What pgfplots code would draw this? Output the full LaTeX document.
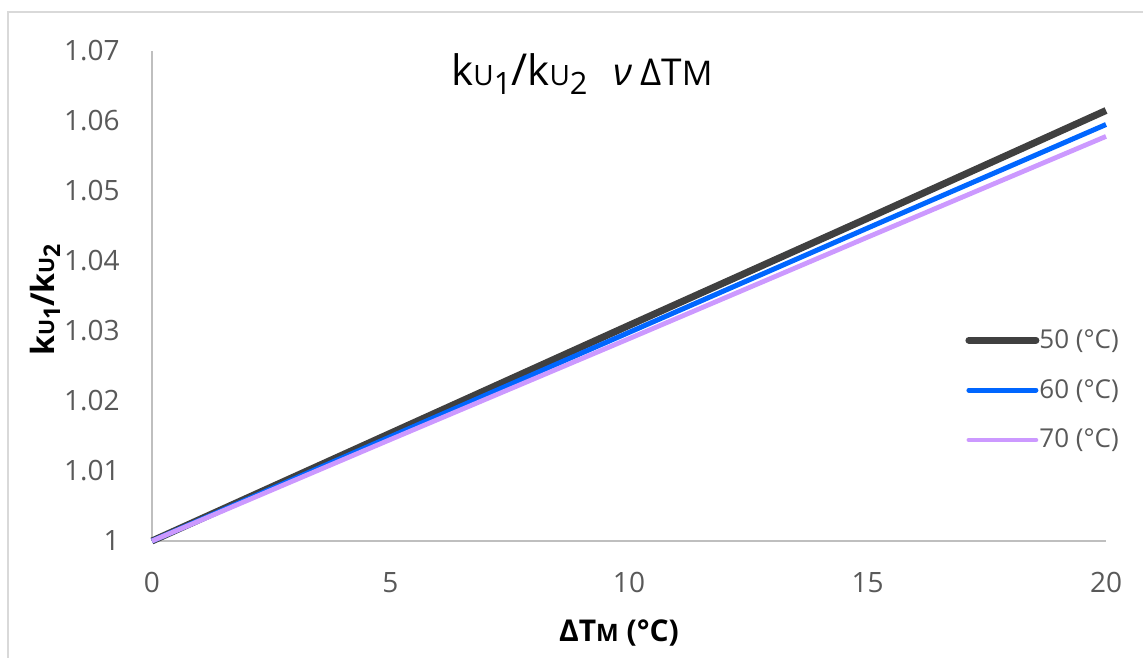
\documentclass[border=0pt]{standalone}
\usepackage{pgfplots}
\pgfplotsset{compat=1.18}
\usepackage{fontspec}
\setmainfont{Open Sans}
\definecolor{cblack}{HTML}{404040}
\definecolor{cblue}{HTML}{0066FF}
\definecolor{cpurple}{HTML}{CC99FF}
\definecolor{ctick}{HTML}{595959}
\definecolor{caxis}{HTML}{BFBFBF}
\definecolor{cframe}{HTML}{D9D9D9}
\newcommand{\fs}[1]{\fontsize{#1}{#1}\selectfont}
\begin{document}
\begin{tikzpicture}
\path[use as bounding box] (-76pt,-58pt) rectangle (495.5pt,270.5pt);
\draw[cframe, line width=1pt] (-72pt,-80pt) -- (-72pt,264.5pt) -- (520pt,264.5pt);
\begin{axis}[
  at={(0pt,0pt)}, anchor=south west,
  scale only axis, width=477pt, height=245pt,
  xmin=0, xmax=20, ymin=1, ymax=1.07,
  axis x line*=bottom, axis y line*=left,
  axis line style={caxis, line width=1pt, -},
  xtick={0,5,10,15,20},
  ytick={1,1.01,1.02,1.03,1.04,1.05,1.06,1.07},
  yticklabels={1,1.01,1.02,1.03,1.04,1.05,1.06,1.07},
  tick style={draw=none},
  /pgf/number format/assume math mode=true,
  ticklabel style={font=\fs{14}, text=ctick, inner sep=0pt},
  yticklabel style={anchor=east, xshift=-16pt},
  xticklabel style={anchor=north, yshift=-15.5pt},
  clip=false,
  title={{\fs{21}k}{\fs{14}U}{\fs{15.4}\raisebox{-4.5pt}{1}}{\fs{22}/}{\fs{21}k}{\fs{14}U}{\fs{15.4}\raisebox{-4.5pt}{2}}\hspace{13pt}{\fs{19}\itshape ν}\hspace{4pt}{\fs{18.5}ΔT}{\fs{17}M}},
  title style={at={(axis description cs:0.4507,0.905)}, anchor=base, inner sep=0pt},
  ylabel={\bfseries{\fs{16}k}{\fs{10.6}U}{\fs{11.5}\raisebox{-3pt}{1}}{\fs{16.5}/}{\fs{16}k}{\fs{10.6}U}{\fs{11.5}\raisebox{-3pt}{2}}},
  ylabel style={at={(axis description cs:-0.1122,0.492)}, anchor=center, inner sep=0pt},
  xlabel={\bfseries\fs{15}ΔT{\fs{12}M} (°C)},
  xlabel style={at={(axis description cs:0.4895,0)}, anchor=center, yshift=-46pt, inner sep=0pt},
  legend style={at={(axis description cs:0.8522,0.308)}, anchor=west, draw=none, fill=none,
    font=\fs{13}, text=ctick, inner sep=0pt, row sep=14pt,
    nodes={inner sep=0pt},
    /tikz/every even column/.append style={column sep=2pt}},
  legend cell align=left,
  legend image code/.code={\draw[#1, line cap=round] (0pt,0pt) -- (33.5pt,0pt);},
]
\addplot[cblack, line width=3.5pt] coordinates {(0,1) (5,1.0154) (10,1.0308) (15,1.0461) (20,1.0615)};
\addlegendentry{50 (°C)}
\addplot[cblue, line width=2.5pt] coordinates {(0,1) (5,1.0149) (10,1.0298) (15,1.0447) (20,1.0595)};
\addlegendentry{60 (°C)}
\addplot[cpurple, line width=2.4pt] coordinates {(0,1) (5,1.0145) (10,1.0289) (15,1.0434) (20,1.0578)};
\addlegendentry{70 (°C)}
\end{axis}
\end{tikzpicture}
\end{document}
